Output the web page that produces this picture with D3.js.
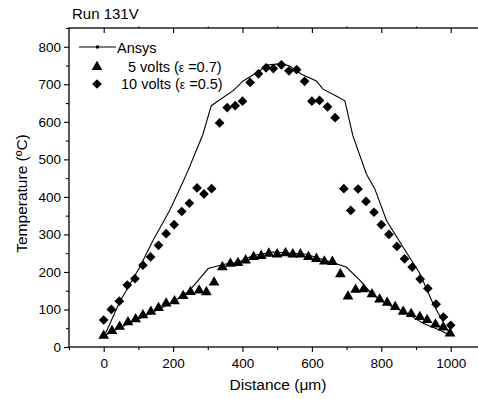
<!DOCTYPE html>
<html>
<head>
<meta charset="utf-8">
<script src="https://cdn.jsdelivr.net/npm/d3@7"></script>
<style>
  body { margin: 0; background: #fff; }
  text { font-family: Arial, 'Liberation Sans', sans-serif; fill: #000; }
</style>
</head>
<body>
<div id="chart"></div>
<script>
const WIDTH = 478;
const HEIGHT = 399;
const LABEL_FONT = '13.5px';
const LEGEND_FONT = '14.5px';

// 10 volts (eps = 0.5) diamonds: [distance um, temperature C]
const diamondDist = [0, 22, 45, 68, 90, 113, 135, 158, 180, 203, 225, 247, 269, 289, 311, 334, 356, 379, 400, 422, 446, 468, 489, 512, 534, 556, 579, 600, 622, 645, 667, 692, 712, 733, 756, 779, 800, 822, 845, 867, 889, 912, 934, 958, 979, 1000];
const diamondTemp = [72, 100, 122, 165, 182, 218, 240, 271, 302, 326, 361, 383, 424, 408, 422, 597, 638, 643, 655, 705, 728, 744, 742, 752, 736, 739, 708, 655, 657, 640, 611, 422, 364, 421, 388, 359, 326, 300, 268, 235, 213, 181, 156, 114, 80, 58];

// 5 volts (eps = 0.7) triangles
const triangleDist = [0, 24, 46, 70, 92, 113, 136, 158, 180, 204, 229, 250, 275, 296, 318, 342, 365, 387, 409, 432, 454, 476, 500, 524, 545, 567, 590, 613, 636, 659, 682, 704, 726, 749, 773, 795, 817, 840, 863, 886, 911, 932, 956, 978, 998];
const triangleTemp = [30, 43, 54, 66, 74, 85, 94, 104, 116, 122, 136, 147, 151, 146, 172, 213, 222, 224, 231, 240, 243, 249, 247, 250, 247, 247, 240, 235, 228, 227, 194, 135, 153, 154, 141, 127, 118, 107, 94, 88, 80, 72, 60, 52, 36];

// Ansys simulation, upper curve (10 volts)
const ansysHiDist = [5, 46, 104, 142, 190, 219, 243, 286, 310, 373, 402, 450, 469, 512, 536, 570, 613, 632, 670, 695, 718, 757, 781, 815, 863, 911, 949, 988, 1000];
const ansysHiTemp = [36, 120, 213, 284, 364, 421, 470, 567, 643, 683, 709, 736, 751, 755, 749, 727, 709, 687, 669, 656, 563, 461, 422, 337, 266, 196, 116, 50, 35];

// Ansys simulation, lower curve (5 volts)
const ansysLoDist = [3, 32, 113, 200, 248, 301, 344, 392, 430, 488, 584, 670, 699, 738, 776, 834, 872, 920, 968, 997];
const ansysLoTemp = [30, 45, 80, 120, 151, 209, 220, 227, 244, 253, 247, 222, 213, 178, 138, 105, 91, 63, 45, 32];

const xMajor = [0, 200, 400, 600, 800, 1000];
const xMinor = [-100, 100, 300, 500, 700, 900, 1100];
const yMajor = [0, 100, 200, 300, 400, 500, 600, 700, 800];
const yMinor = [50, 150, 250, 350, 450, 550, 650, 750, 850];

const margin = { top: 28, left: 69, bottom: 347 };

const svg = d3.select('#chart')
  .append('svg')
  .attr('width', WIDTH)
  .attr('height', HEIGHT);

const xScale = d3.scaleLinear().domain([-100, 1100]).range([margin.left, margin.left + 1200 * 0.347]);
const yScale = d3.scaleLinear().domain([0, 850]).range([margin.bottom, margin.top]);

const [x0, x1] = xScale.range();
const [y0, y1] = yScale.range();

// title
svg.append('text')
  .attr('x', 72)
  .attr('y', 19)
  .style('font-size', '15px')
  .text('Run 131V');

// frame (right side runs past the picture edge)
svg.append('rect')
  .attr('x', x0)
  .attr('y', y1)
  .attr('width', x1 - x0)
  .attr('height', y0 - y1)
  .attr('fill', 'none')
  .attr('stroke', '#000')
  .attr('stroke-width', 1.3);

function styleAxis(g) {
  g.select('.domain').remove();
  g.selectAll('line').attr('stroke', '#000').attr('stroke-width', 1.1);
  g.selectAll('text').style('font-size', LABEL_FONT).style('font-family', 'Arial, Liberation Sans, sans-serif');
}

// bottom axis
svg.append('g')
  .attr('transform', `translate(0,${y0})`)
  .call(d3.axisBottom(xScale).tickValues(xMajor).tickSize(5).tickPadding(6).tickFormat(d3.format('d')))
  .call(styleAxis);
svg.append('g')
  .attr('transform', `translate(0,${y0})`)
  .call(d3.axisBottom(xScale).tickValues(xMinor).tickSize(3).tickFormat(''))
  .call(styleAxis);

// top axis, ticks pointing in
svg.append('g')
  .attr('transform', `translate(0,${y1})`)
  .call(d3.axisBottom(xScale).tickValues(xMajor).tickSize(5).tickFormat(''))
  .call(styleAxis);
svg.append('g')
  .attr('transform', `translate(0,${y1})`)
  .call(d3.axisTop(xScale).tickValues(xMinor.slice(1, -1)).tickSize(1.5).tickFormat(''))
  .call(styleAxis);

// left axis
svg.append('g')
  .attr('transform', `translate(${x0},0)`)
  .call(d3.axisLeft(yScale).tickValues(yMajor).tickSize(5).tickPadding(3))
  .call(styleAxis);
svg.append('g')
  .attr('transform', `translate(${x0},0)`)
  .call(d3.axisLeft(yScale).tickValues(yMinor).tickSize(3).tickFormat(''))
  .call(styleAxis);

// axis labels
svg.append('text')
  .attr('x', 278)
  .attr('y', 390)
  .attr('text-anchor', 'middle')
  .style('font-size', '15.5px')
  .text('Distance (\u03bcm)');

svg.append('text')
  .attr('transform', `translate(27,${(y0 + y1) / 2 + 6}) rotate(-90)`)
  .attr('text-anchor', 'middle')
  .style('font-size', '15.5px')
  .text('Temperature (\u00baC)');

// Ansys lines
const line = d3.line()
  .x((d) => xScale(d[0]))
  .y((d) => yScale(d[1]));

function drawLine(xs, ys) {
  svg.append('path')
    .datum(d3.zip(xs, ys))
    .attr('fill', 'none')
    .attr('stroke', '#000')
    .attr('stroke-width', 1.1)
    .attr('d', line);
}
drawLine(ansysHiDist, ansysHiTemp);
drawLine(ansysLoDist, ansysLoTemp);

const diamond = d3.symbol().type(d3.symbolDiamond2).size(60);
const triangle = d3.symbol().type(d3.symbolTriangle).size(50);

function drawPoints(xs, ys, sym) {
  svg.append('g')
    .selectAll('path')
    .data(d3.zip(xs, ys))
    .join('path')
    .attr('transform', (d) => `translate(${xScale(d[0])},${yScale(d[1])})`)
    .attr('d', sym)
    .attr('fill', '#000');
}
drawPoints(diamondDist, diamondTemp, diamond);
drawPoints(triangleDist, triangleTemp, triangle);

// legend
const legend = svg.append('g');
legend.append('line')
  .attr('x1', 79).attr('x2', 116)
  .attr('y1', 47).attr('y2', 47)
  .attr('stroke', '#000').attr('stroke-width', 1.1);
legend.append('rect')
  .attr('x', 96).attr('y', 45.5)
  .attr('width', 3).attr('height', 3)
  .attr('fill', '#000');
legend.append('text')
  .attr('x', 117).attr('y', 53)
  .style('font-size', LEGEND_FONT)
  .text('Ansys');

legend.append('path')
  .attr('transform', 'translate(97,67)')
  .attr('d', triangle);
const t1 = legend.append('text')
  .attr('x', 128).attr('y', 72)
  .style('font-size', LEGEND_FONT);
t1.append('tspan').text('5 volts (');
t1.append('tspan').style('font-size', '12px').text('\u03b5');
t1.append('tspan').text(' =0.7)');

legend.append('path')
  .attr('transform', 'translate(97,84)')
  .attr('d', diamond);
const t2 = legend.append('text')
  .attr('x', 121).attr('y', 89)
  .style('font-size', LEGEND_FONT);
t2.append('tspan').text('10 volts (');
t2.append('tspan').style('font-size', '12px').text('\u03b5');
t2.append('tspan').text(' =0.5)');
</script>
</body>
</html>
